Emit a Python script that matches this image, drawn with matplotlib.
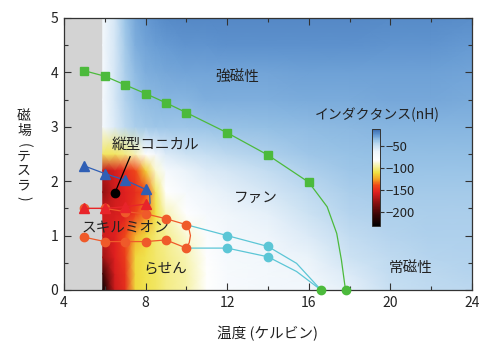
import numpy as np
import matplotlib
matplotlib.use("Agg")
import matplotlib.pyplot as plt
from matplotlib.colors import LinearSegmentedColormap, Normalize

plt.rcParams['font.family'] = ['Noto Sans CJK JP', 'DejaVu Sans']

# --- inductance map (nH), rows = field, cols = temperature
temps = [5.9, 6.5, 7.0, 7.5, 8.0, 8.5, 9.0, 10.0, 11.0, 12.0, 14.0, 16.0, 18.0, 20.0, 22.0, 24.0]
fields = [0.0, 0.3, 0.6, 1.0, 1.4, 1.8, 2.2, 2.5, 3.0, 3.5, 4.0, 4.5, 5.0]
induct = [
    [-228, -160, -150, -112, -108, -105, -100, -95, -82, -72, -68, -66, -58, -48, -45, -44],
    [-205, -158, -148, -112, -108, -105, -100, -95, -82, -72, -67, -64, -55, -46, -44, -43],
    [-175, -155, -145, -112, -108, -104, -100, -93, -80, -70, -66, -60, -50, -45, -43, -42],
    [-160, -155, -140, -122, -112, -103, -98, -88, -76, -68, -62, -55, -46, -43, -41, -41],
    [-160, -158, -155, -145, -130, -110, -92, -80, -70, -64, -58, -50, -43, -41, -40, -40],
    [-178, -160, -155, -150, -140, -105, -82, -70, -62, -58, -52, -45, -40, -38, -38, -38],
    [-165, -158, -150, -140, -115, -88, -70, -60, -55, -52, -46, -41, -37, -36, -36, -36],
    [-105, -105, -100, -92, -80, -66, -55, -50, -47, -44, -41, -37, -35, -34, -34, -34],
    [-70, -55, -45, -40, -38, -37, -37, -37, -36, -35, -34, -33, -32, -31, -31, -31],
    [-70, -52, -42, -36, -33, -32, -31, -31, -30, -30, -30, -29, -29, -28, -28, -29],
    [-70, -52, -40, -33, -30, -29, -28, -27, -27, -27, -27, -26, -26, -26, -26, -27],
    [-68, -52, -38, -30, -27, -25, -24, -23, -23, -22, -22, -22, -22, -23, -23, -24],
    [-68, -52, -36, -28, -24, -22, -20, -19, -19, -19, -19, -19, -19, -20, -20, -21],
]

# --- phase boundaries
green_T = [5, 6, 7, 8, 9, 10, 12, 14, 16]
green_H = [4.03, 3.93, 3.77, 3.61, 3.44, 3.26, 2.89, 2.48, 1.98]
green_tail_T = [16, 16.9, 17.37, 17.6, 17.8]
green_tail_H = [1.98, 1.53, 1.04, 0.55, 0.0]
green_end_T = [16.6, 17.8]
green_end_H = [0.0, 0.0]

blue_T = [5, 6, 7, 8]
blue_H = [2.28, 2.14, 2.02, 1.85]
blue_tail_T = [8, 8.2, 8.22, 8.05]
blue_tail_H = [1.85, 1.75, 1.6, 1.42]

redtri_T = [5, 6, 7, 8]
redtri_H = [1.5, 1.5, 1.53, 1.58]

skyrm_up_T = [5, 6, 7, 8, 9, 10]
skyrm_up_H = [1.5, 1.5, 1.44, 1.40, 1.31, 1.2]
skyrm_lo_T = [10, 9, 8, 7, 6, 5]
skyrm_lo_H = [0.77, 0.92, 0.89, 0.89, 0.89, 0.97]
loop_T = [10, 10.14, 10.2, 10.14, 10]
loop_H = [1.2, 1.1, 1.0, 0.87, 0.77]

cyan_up_T = [10, 12, 14, 15.4, 16.6]
cyan_up_H = [1.2, 1.0, 0.8, 0.49, 0.0]
cyan_lo_T = [10, 12, 14, 15.4, 16.6]
cyan_lo_H = [0.77, 0.77, 0.61, 0.34, 0.0]
cyan_pts_T = [12, 14, 12, 14]
cyan_pts_H = [1.0, 0.8, 0.77, 0.61]

cbar_ticks = [-50, -100, -150, -200]

cmap = LinearSegmentedColormap.from_list('ind', [
    (0.00, '#000000'), (0.12, '#3a0505'), (0.24, '#8b1010'), (0.35, '#e02020'),
    (0.42, '#f04a1a'), (0.48, '#f3a025'), (0.55, '#f0e040'), (0.62, '#f6f2a8'),
    (0.68, '#ffffff'), (0.77, '#eef5fb'), (0.84, '#c2dcf1'), (0.89, '#97c2e6'),
    (0.94, '#6398d2'), (1.00, '#3a6aae')])
norm = Normalize(vmin=-233, vmax=-10)

fig = plt.figure(figsize=(4.8, 3.44), dpi=100)
ax = fig.add_axes([0.1333, 0.157, 0.85, 0.7907])

ax.axvspan(4, 5.9, color='#d3d3d3', zorder=0)
ax.pcolormesh(temps, fields, np.array(induct), cmap=cmap, norm=norm, shading='gouraud', zorder=0)

lw = 0.9
gc, bc, oc, cc = '#4cba3c', '#2f5fb5', '#ef5a2a', '#5cc6d6'
ax.plot(green_T, green_H, '-s', color=gc, ms=6, lw=lw)
ax.plot(green_tail_T, green_tail_H, '-', color=gc, lw=lw)
ax.plot(green_end_T, green_end_H, 'o', color=gc, ms=6, clip_on=False, zorder=5)

ax.plot(cyan_up_T, cyan_up_H, '-', color=cc, lw=lw)
ax.plot(cyan_lo_T, cyan_lo_H, '-', color=cc, lw=lw)
ax.plot(cyan_pts_T, cyan_pts_H, 'o', color=cc, ms=6)

ax.plot(blue_T, blue_H, '-^', color=bc, ms=6.5, lw=lw)
ax.plot(blue_tail_T, blue_tail_H, '-', color=bc, lw=lw)

ax.plot(skyrm_up_T, skyrm_up_H, '-o', color=oc, ms=6, lw=lw)
ax.plot(loop_T, loop_H, '-', color=oc, lw=lw)
ax.plot(skyrm_lo_T, skyrm_lo_H, '-o', color=oc, ms=6, lw=lw)
ax.plot(redtri_T, redtri_H, '-^', color='#e8242a', ms=6.5, lw=lw)

# black dot + pointer
ax.plot([6.5], [1.79], 'o', color='black', ms=6, zorder=6)
ax.plot([6.5, 7.24], [1.79, 2.45], '-', color='black', lw=0.9, zorder=6)

fs = 10.5
tc = '#222222'
ax.text(12.5, 3.9, '強磁性', fontsize=fs, color=tc, ha='center', va='center')
ax.text(8.5, 2.67, '縦型コニカル', fontsize=fs, color=tc, ha='center', va='center')
ax.text(13.4, 1.69, 'ファン', fontsize=fs, color=tc, ha='center', va='center')
ax.text(7.0, 1.15, 'スキルミオン', fontsize=fs, color=tc, ha='center', va='center')
ax.text(8.95, 0.40, 'らせん', fontsize=fs, color=tc, ha='center', va='center')
ax.text(21.0, 0.40, '常磁性', fontsize=fs, color=tc, ha='center', va='center')

ax.set_xlim(4, 24)
ax.set_ylim(0, 5)
ax.set_xticks([4, 8, 12, 16, 20, 24])
ax.set_xticks([6, 10, 14, 18, 22], minor=True)
ax.set_yticks([0, 1, 2, 3, 4, 5])
ax.set_yticks([0.5, 1.5, 2.5, 3.5, 4.5], minor=True)
ax.tick_params(which='both', direction='in', top=True, right=True, color='#333333',
               labelsize=10, labelcolor='#222222', width=0.8)
ax.tick_params(which='major', length=5, pad=4)
ax.tick_params(which='minor', length=3)
for s in ax.spines.values():
    s.set_color('#333333')
    s.set_linewidth(0.9)

ax.set_xlabel('温度 (ケルビン)', fontsize=10.5, color=tc, labelpad=12)

# vertical y label, one character at a time
ylab_chars = ['磁', '場', '(', 'テ', 'ス', 'ラ', ')']
ylab_y = [116, 131, 145, 157, 171, 185, 198]
for ch, yp in zip(ylab_chars, ylab_y):
    rot = -90 if ch in '()' else 0
    fig.text(24 / 480, 1 - yp / 344, ch, fontsize=10, color=tc, ha='center', va='center', rotation=rot)

# colorbar
cax = fig.add_axes([0.775, 0.343, 0.0167, 0.282])
sm = plt.cm.ScalarMappable(norm=norm, cmap=cmap)
cb = fig.colorbar(sm, cax=cax, ticks=cbar_ticks)
cb.outline.set_edgecolor('#333333')
cb.outline.set_linewidth(0.7)
cax.tick_params(labelsize=9.5, length=3, direction='out', color='#333333', labelcolor='#222222', pad=1)
fig.text(0.785, 0.666, 'インダクタンス(nH)', fontsize=10, color=tc, ha='center', va='center')

fig.savefig('out.png', dpi=100)
